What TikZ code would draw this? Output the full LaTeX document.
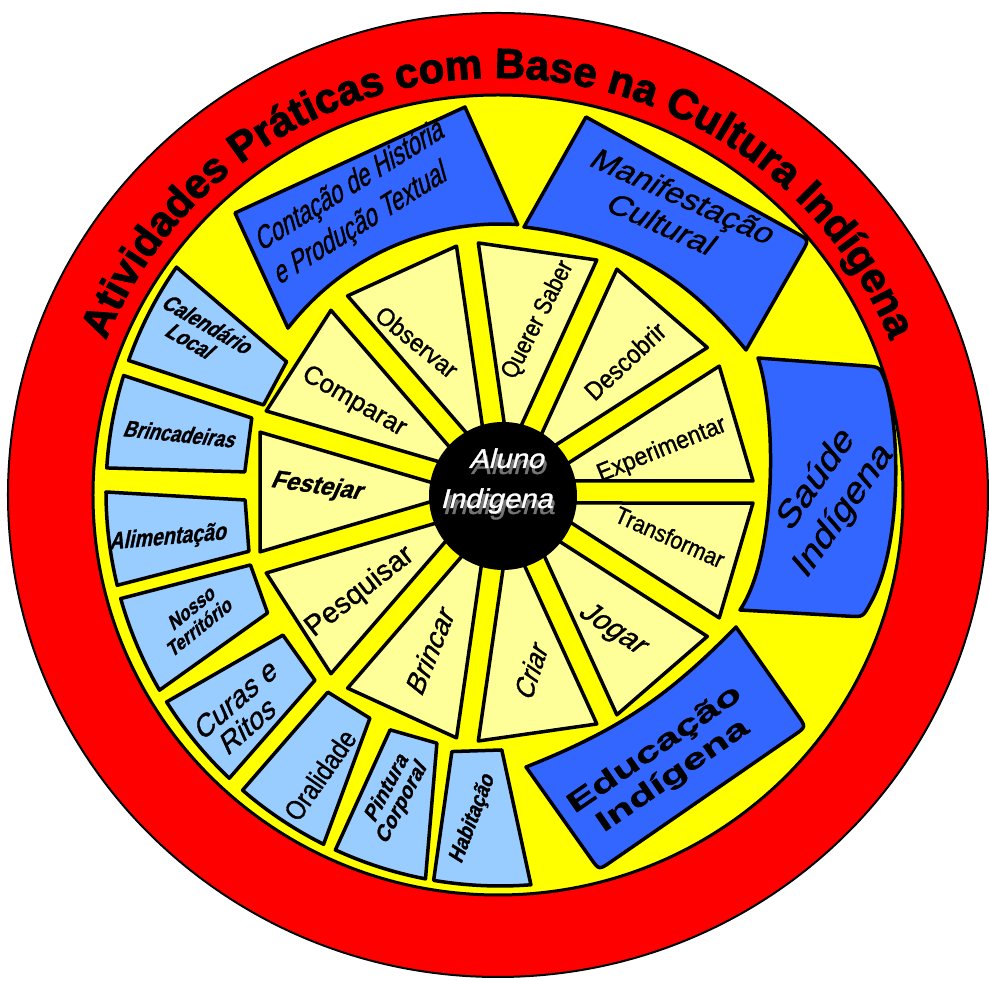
\documentclass[tikz,border=0pt]{standalone}
\usepackage{fontspec}
\setmainfont[FakeBold=1.2]{Liberation Sans}
\newfontfamily\titlefont[FakeBold=2.5]{Liberation Sans Bold}
\usetikzlibrary{calc,decorations.text}
\definecolor{ringred}{RGB}{255,0,0}
\definecolor{discyellow}{RGB}{255,255,0}
\definecolor{wedgeyellow}{RGB}{255,255,153}
\definecolor{themeblue}{RGB}{51,102,255}
\definecolor{topicblue}{RGB}{153,204,255}
\newcommand\fsz[3]{\fontsize{#1}{#2}\selectfont\addfontfeatures{FakeStretch=#3}}
\tikzset{
  wedgebox/.style={draw, line width=3.5pt, fill=wedgeyellow, line join=round},
  topicbox/.style={draw, line width=3.5pt, fill=topicblue, line join=round},
  themebox/.style={draw, line width=3.5pt, fill=themeblue, line join=round},
  lbl/.style={inner sep=0pt, align=center}
}
\begin{document}
\begin{tikzpicture}[x=1pt, y=1pt]
\useasboundingbox (-497,-486) rectangle (492,495);
\coordinate (O) at (1,0);
\coordinate (L) at (3,3);
\coordinate (W) at (6,3);
\coordinate (C) at (6,-1);
% outer ring and title
\fill[ringred] (O) ellipse[x radius=490, y radius=482];
\draw[line width=2pt] (O) ellipse[x radius=490, y radius=482];
\draw[line width=3pt, fill=discyellow] (O) ellipse[x radius=405, y radius=400];
\path[decorate, decoration={text along path, text align=center,
  text={|\titlefont\fontsize{42}{42}\selectfont|Atividades Práticas com Base na Cultura Indígena}}]
  ($(O)+(-422,0)$) arc[start angle=180, end angle=0, x radius=422, y radius=417];
% theme boxes
\draw[themebox] (-262,282) -- (-32,388) -- ($(L)+(86.2:268)$) arc[start angle=86.2, end angle=142.3, radius=268] -- cycle;
\draw[themebox] (89,378) -- ($(312,255)!14pt!(89,378)$) .. controls (312,255) .. ($(312,255)!14pt!(249,145)$)
  -- (249,145) to[bend right=22] (27,268) -- cycle;
\draw[themebox] (243,-115) .. controls (280,-60) and (280,80) .. (261,137) -- ($(383,128)!14pt!(261,137)$)
  .. controls (383,128) .. (389,112) .. controls (404,60) and (404,-55) .. (373,-109)
  .. controls (366,-122) .. ($(366,-122)!14pt!(243,-115)$) -- cycle;
\draw[themebox] (29,-272) to[bend right=12] (239,-132) -- ($(309,-232)!14pt!(239,-132)$)
  .. controls (309,-232) .. ($(309,-232)!14pt!(102,-375)$) -- ($(102,-375)!14pt!(309,-232)$)
  .. controls (102,-375) .. ($(102,-375)!14pt!(29,-272)$) -- cycle;
% topic boxes
\foreach \ai/\ao/\bo/\bi/\ri/\rj in {148.6/145.2/160.5/159.8/250/252, 163.4/162.8/176.5/175.5/259/256,
  181.8/180/193.7/193.3/255/258, 196.3/195.7/210.2/207.5/260/262, 213.4/212.2/226.6/225.5/260/264,
  229.3/229.2/243.4/240.1/264/261, 245.2/245.3/259.1/255.9/262/259, 259.5/260.3/274.5/270.4/264/258}
  \draw[topicbox] ($(L)+(\ai:\ri)$) -- ($(L)+(\ao:394)$) arc[start angle=\ao, end angle=\bo, radius=394] -- ($(L)+(\bi:\rj)$) -- cycle;
% wedges
\foreach \k in {0,...,10} {
  \pgfmathsetmacro\th{180-\k*360/11}
  \draw[wedgebox] ($(W)+(\th+16.36:50)+(\th-73.64:11)$) -- ($(W)+(\th+16.36:250)+(\th-73.64:11)$)
    -- ($(W)+(\th-16.36:250)+(\th+73.64:11)$) -- ($(W)+(\th-16.36:50)+(\th+73.64:11)$) -- cycle;
}
\fill (C) circle[radius=74];
% centre
\node[lbl, xslant=0.25, text=black!55, font={\fsz{27}{40}{1.08}}] (alunoshadow) at (8,8) {Aluno\\Indigena};
\node[lbl, xslant=0.25, text=white, font={\fsz{27}{40}{1.08}}] (aluno) at (6,14) {Aluno\\Indigena};
% theme labels
\node[lbl, rotate=32, xslant=0.3, font={\fsz{31}{38}{0.75}}] (contacao) at (-141,290) {Contação de História\\e Produção Textual};
\node[lbl, rotate=-24, xslant=0.25, font={\fsz{30}{34}{1.1}}] (manifestacao) at (176,285) {Manifestação\\Cultural};
\node[lbl, rotate=55, xslant=0.25, font={\fsz{34}{40}{1.15}}] (saude) at (333,0) {Saúde\\Indígena};
\node[lbl, rotate=34.6, font={\bfseries\fsz{28}{32}{1.55}}] (educacao) at (167,-268) {Educação\\Indígena};
% topic labels
\node[lbl, rotate=-30, xslant=0.3, font={\bfseries\fsz{23}{23}{0.82}}] (calendario) at (-297,162) {Calendário\\Local};
\node[lbl, rotate=-6, xslant=0.3, font={\bfseries\fsz{23}{23}{0.8}}] (brincadeiras) at (-316,61) {Brincadeiras};
\node[lbl, rotate=5, xslant=0.3, font={\bfseries\fsz{24}{24}{0.82}}] (alimentacao) at (-328,-43) {Alimentação};
\node[lbl, rotate=39, xslant=0.3, font={\bfseries\fsz{20}{20}{0.9}}] (territorio) at (-301,-122) {Nosso\\Território};
\node[lbl, rotate=41, xslant=0.3, font={\fsz{29}{28}{1.0}}] (curas) at (-255,-217) {Curas e\\Ritos};
\node[lbl, rotate=55, font={\fsz{28}{28}{0.85}}] (oralidade) at (-177,-280) {Oralidade};
\node[lbl, rotate=62, xslant=0.3, font={\bfseries\fsz{21}{20}{1.0}}] (pintura) at (-102,-300) {Pintura\\Corporal};
\node[lbl, rotate=69, xslant=0.2, font={\bfseries\fsz{22}{22}{0.88}}] (habitacao) at (-24,-323) {Habitação};
% wedge labels
\node[lbl, rotate=-39, font={\fsz{25}{25}{0.95}}] (observar) at (-80,153) {Observar};
\node[lbl, rotate=-30, font={\fsz{26}{26}{1}}] (comparar) at (-143,93) {Comparar};
\node[lbl, rotate=63, font={\fsz{25}{25}{0.85}}] (querer) at (41,175) {Querer Saber};
\node[lbl, rotate=43, font={\fsz{26}{26}{0.9}}] (descobrir) at (128,134) {Descobrir};
\node[lbl, rotate=22, font={\fsz{25}{25}{0.92}}] (experimentar) at (165,45) {Experimentar};
\node[lbl, rotate=-24, font={\fsz{24}{24}{0.9}}] (transformar) at (173,-42) {Transformar};
\node[lbl, rotate=-33.5, xslant=0.3, font={\fsz{29}{29}{1}}] (jogar) at (116,-135) {Jogar};
\node[lbl, rotate=72, xslant=0.3, font={\fsz{28}{28}{0.9}}] (criar) at (34,-175) {Criar};
\node[lbl, rotate=68, xslant=0.3, font={\fsz{28}{28}{1}}] (brincar) at (-67,-155) {Brincar};
\node[lbl, rotate=38, font={\fsz{29}{29}{1}}] (pesquisar) at (-137,-97) {Pesquisar};
\node[lbl, rotate=-8, xslant=0.3, font={\bfseries\fsz{25}{25}{0.95}}] (festejar) at (-179,8) {Festejar};
\end{tikzpicture}
\end{document}
